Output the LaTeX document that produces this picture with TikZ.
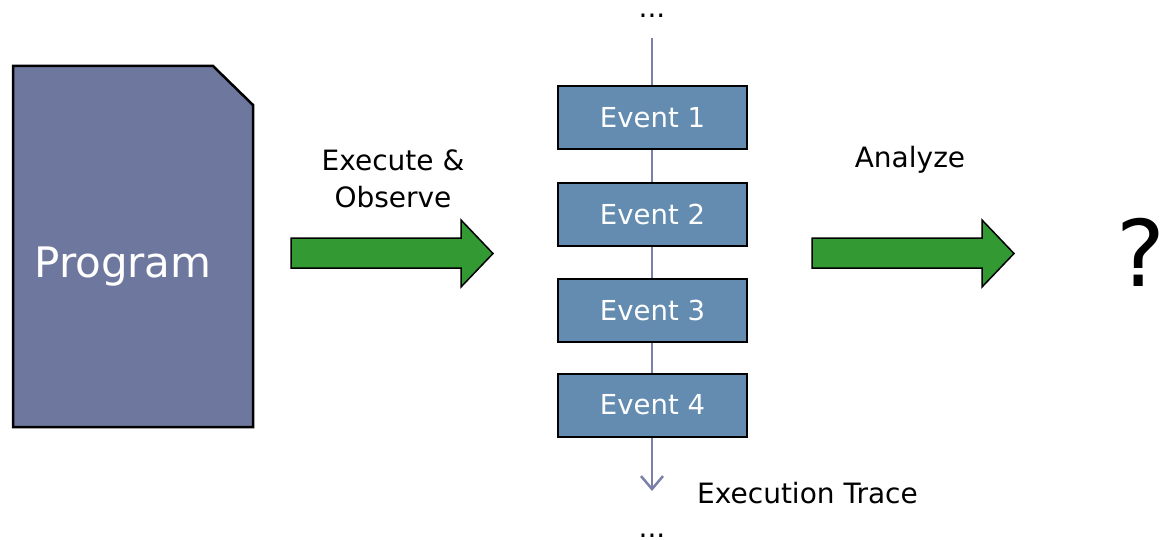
\documentclass[tikz,border=0pt]{standalone}
\usepackage{fontspec}
\setmainfont{DejaVu Sans}
\usetikzlibrary{arrows.meta}
\definecolor{progfill}{HTML}{6E789F}
\definecolor{eventfill}{HTML}{638CB0}
\definecolor{arrowgreen}{HTML}{339933}
\definecolor{traceline}{HTML}{7A80A8}
\tikzset{
  eventbox/.style={draw=black, line width=2pt, fill=eventfill, minimum width=189pt, minimum height=63pt, inner sep=0pt, text=white, font=\fontsize{27.5}{33}\selectfont},
  label/.style={inner sep=0pt, font=\fontsize{28}{37}\selectfont},
  dots/.style={label, anchor=base, text height=4pt, text depth=0pt},
  bigarrow/.style={draw=black, line width=1.5pt, fill=arrowgreen, line join=miter},
}
\begin{document}
\begin{tikzpicture}[x=1pt, y=-1pt]
\useasboundingbox (0,0) rectangle (1167,540);

% program sheet with clipped corner
\draw[fill=progfill, line width=2.5pt, line join=miter]
  (13,66) -- (213,66) -- (253,105) -- (253,427) -- (13,427) -- cycle;
\node[text=white, inner sep=0pt, anchor=base, font=\fontsize{42}{50}\selectfont] (prog) at (123,277) {Program};

% execution trace spine
\coordinate (top) at (652,38);
\coordinate (bot) at (652,491);
\draw[traceline, line width=2.5pt, -{Straight Barb[length=13pt, width=22pt, line width=2.5pt]}] (top) -- (bot);

\node[eventbox] (e1) at (652.5,117.5) {Event 1};
\node[eventbox] (e2) at (652.5,214.5) {Event 2};
\node[eventbox] (e3) at (652.5,310.5) {Event 3};
\node[eventbox] (e4) at (652.5,405) {Event 4};

\node[dots] (dtop) at (652,18) {...};
\node[dots] (dbot) at (652,537) {...};
\node[label, anchor=west] (trace) at (697,493) {Execution Trace};

% block arrows
\draw[bigarrow] (291,238) -- (461,238) -- (461,220) -- (493,253.5) -- (461,287) -- (461,268) -- (291,268) -- cycle;
\draw[bigarrow] (812,238) -- (982,238) -- (982,220) -- (1014,253.5) -- (982,287) -- (982,268) -- (812,268) -- cycle;

\node[label, align=center] (exec) at (393,179) {Execute \&\\Observe};
\node[label] (anal) at (910,160) {Analyze};
\node[inner sep=0pt, font=\fontsize{92}{100}\selectfont] (q) at (1141,252) {?};
\end{tikzpicture}
\end{document}
